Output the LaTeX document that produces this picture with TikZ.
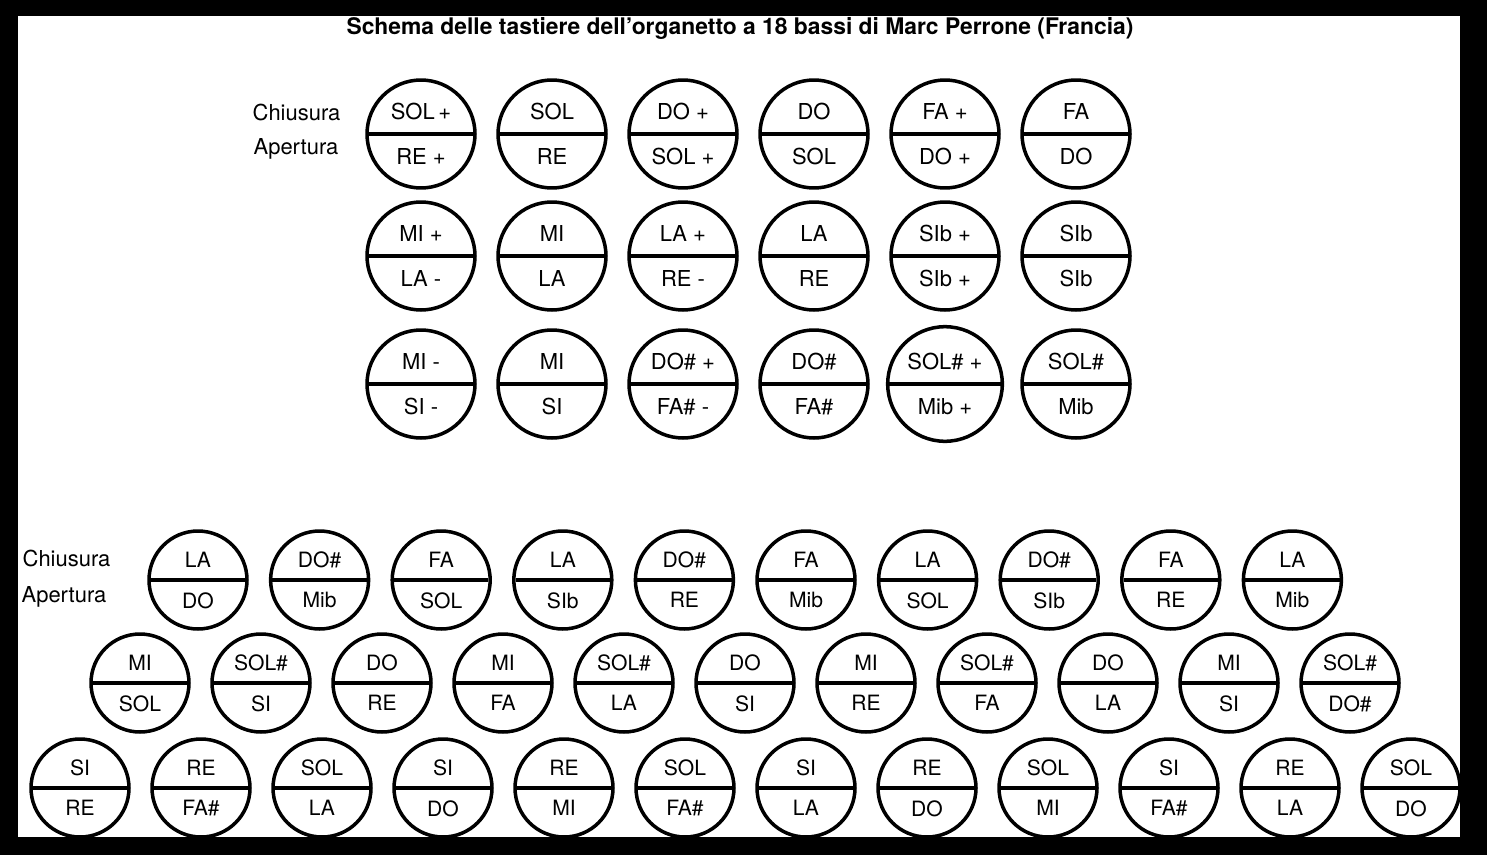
\documentclass[tikz,border=0pt]{standalone}
\usepackage{fontspec}
\setmainfont{TeX Gyre Heros}
\usetikzlibrary{shapes.multipart,positioning}

\begin{document}
\begin{tikzpicture}[x=0.02cm, y=-0.02cm, line width=1.8pt,
  tasto/.style={circle split, draw, line width=2pt, minimum size=2.16cm, inner sep=0pt, inner ysep=7pt, font=\fontsize{12.5}{14}\selectfont},
  tastino/.style={tasto, minimum size=1.96cm, inner ysep=6pt, font=\fontsize{12}{14}\selectfont},
  etichetta/.style={anchor=east, inner sep=0pt, font=\fontsize{12.5}{14}\selectfont}]
\fill[black] (0,0) rectangle (1487,855);
\fill[white] (18,16) rectangle (1460,837);
\node[font=\bfseries\fontsize{13}{15}\selectfont] (titolo) at (740,28) {Schema delle tastiere dell'organetto a 18 bassi di Marc Perrone (Francia)};
% bassi: tre file di sei bottoni
\node[etichetta] (chiu1) at (342,112) {Chiusura};
\node[etichetta] (aper1) at (340,149) {Apertura};
\foreach \su/\giu [count=\i from 0] in {SOL\,+/RE +, SOL/RE, DO +/SOL +, DO/SOL, FA +/DO +, FA/DO}
  \node[tasto] (b1\i) at (421+131*\i,134) {\su \nodepart{lower} \giu};
\foreach \su/\giu [count=\i from 0] in {MI +/LA -, MI/LA, LA +/RE -, LA/RE, SIb +/SIb +, SIb/SIb}
  \node[tasto] (b2\i) at (421+131*\i,256) {\su \nodepart{lower} \giu};
\foreach \su/\giu [count=\i from 0] in {MI -/SI -, MI/SI, DO\# +/FA\# -, DO\#/FA\#, SOL\# +/Mib +, SOL\#/Mib}
  \node[tasto] (b3\i) at (421+131*\i,384) {\su \nodepart{lower} \giu};
% canto: file di dieci, undici e dodici bottoni
\node[etichetta] (chiu2) at (112,558) {Chiusura};
\node[etichetta] (aper2) at (108,597) {Apertura};
\foreach \su/\giu [count=\i from 0] in {LA/DO, DO\#/Mib, FA/SOL, LA/SIb, DO\#/RE, FA/Mib, LA/SOL, DO\#/SIb, FA/RE, LA/Mib}
  \node[tastino] (c1\i) at (198+121.6*\i,580) {\su \nodepart{lower} \giu};
\foreach \su/\giu [count=\i from 0] in {MI/SOL, SOL\#/SI, DO/RE, MI/FA, SOL\#/LA, DO/SI, MI/RE, SOL\#/FA, DO/LA, MI/SI, SOL\#/DO\#}
  \node[tastino] (c2\i) at (140+121*\i,683) {\su \nodepart{lower} \giu};
\foreach \su/\giu [count=\i from 0] in {SI/RE, RE/FA\#, SOL/LA, SI/DO, RE/MI, SOL/FA\#, SI/LA, RE/DO, SOL/MI, SI/FA\#, RE/LA, SOL/DO}
  \node[tastino] (c3\i) at (80+121*\i,788) {\su \nodepart{lower} \giu};
\end{tikzpicture}
\end{document}
